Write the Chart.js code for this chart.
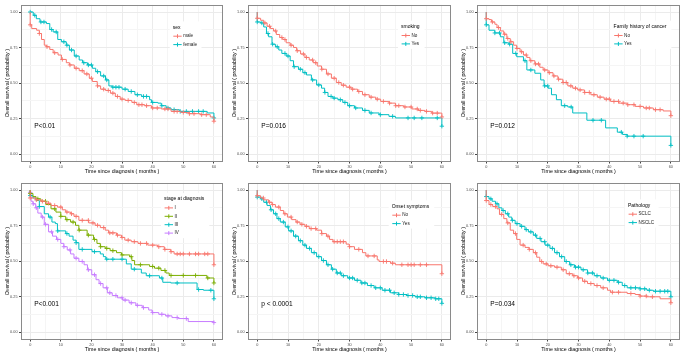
<!DOCTYPE html>
<html><head><meta charset="utf-8">
<script src="https://cdn.jsdelivr.net/npm/chart.js@4.4.1/dist/chart.umd.min.js"></script>
<style>
html,body{margin:0;padding:0;background:#fff;width:685px;height:356px;overflow:hidden;position:relative}
canvas{position:absolute}
</style></head><body>
<script>
// ---------- data ----------
const xTickLabels = [0, 10, 20, 30, 40, 50, 60];
const yTickLabels = [0, 0.25, 0.5, 0.75, 1];
const xMinorTicks = [5, 15, 25, 35, 45, 55];
const yMinorTicks = [0.125, 0.375, 0.625, 0.875];

// Panel 1: sex
const sexMaleT = [0,0,0.5,2.1,3,3.7,4.6,5.3,6.4,7.5,9.1,10.2,11.8,12.8,14.4,16,17.6,19.3,20.3,21.9,23,24.6,26.2,27.8,29.4,31,33.2,34.8,37.4,39.6,42.8,46,49.2,51.9,55.6,58.8,60];
const sexMaleS = [1,.91,.884,.872,.849,.807,.767,.756,.737,.714,.698,.667,.644,.628,.605,.588,.565,.535,.512,.481,.458,.449,.430,.407,.388,.379,.365,.349,.342,.326,.319,.302,.295,.286,.279,.263,.233];
const sexMaleCens = [0,3,5.5,8,10.5,13,15,17,18.5,20,22,24,25.5,27,28.5,30,32,34,35.5,36.5,38,40,41.5,44,45,47,48,50,52,53.5,56,57.5,60];
const sexFemaleT = [0,1,2,3.2,5.3,6.4,7.5,9,10.2,11.8,12.8,14.4,16,17.1,18.7,20.3,21.4,23,24.6,25.7,26.7,30,32,34.2,36.4,39,39.6,41.7,42.8,44.4,46,48.7,57.8,60];
const sexFemaleS = [1,.977,.953,.930,.919,.877,.860,.807,.791,.767,.733,.691,.663,.644,.628,.605,.581,.551,.523,.481,.472,.458,.442,.419,.407,.384,.365,.360,.342,.326,.314,.302,.291,.256];
const sexFemaleCens = [0,1.5,3.5,4.5,7,8.5,11,12,13.5,15,17.5,19,20,22,24,25,27,28,29,31,33,35,37,38,40,43,45,47,49,51,53,55,56.5,60];

// Panel 2: smoking
const smokeNoT = [0,0,1.1,2.1,3.2,4.3,5.3,6.2,7.3,8.3,9.4,10.7,11.8,12.8,14.1,15.5,16.9,18.2,19.5,20.9,22.5,24.1,25.7,27.3,28.9,30.5,32.6,34.2,36.4,38.5,40.1,42.8,44.9,47.6,50.3,52.4,54.5,56.7,60];
const smokeNoS = [1,.956,.942,.923,.900,.884,.867,.842,.821,.807,.784,.767,.751,.728,.705,.681,.663,.644,.621,.598,.565,.535,.505,.486,.472,.458,.442,.419,.402,.388,.372,.360,.342,.333,.319,.309,.302,.290,.263];
const smokeNoCens = [0,2.5,4,6,8,9,11,13,15,16,18,19,21,23,25,26.5,28,30,31,33,35,37,39,41,43,45,46,48,50,52,53,55,57,58.5,60];
const smokeYesT = [0,0,1.1,2.1,3,3.7,4.8,5.9,7,8,9.4,10.7,11.8,13.4,14.8,16,17.6,19.3,20.9,21.9,23,24.6,26.2,27.8,29.4,31.6,34.2,36.4,39.6,42.8,44.9,60];
const smokeYesS = [1,.93,.923,.895,.849,.826,.774,.756,.733,.709,.691,.658,.616,.598,.574,.558,.523,.488,.465,.435,.407,.395,.384,.365,.342,.326,.309,.291,.279,.267,.256,.198];
const smokeYesCens = [0,1.5,3.5,5,6.5,9,10,12,14,15.5,18,20,22,24,25,27,28.5,30,32,35,37,40,44,49,51,53.5,58.5,60];

// Panel 3: family history of cancer
const famNoT = [0,0,0.9,1.7,2.8,3.5,4.6,5.7,6.7,7.8,8.9,9.9,11,12.1,13.2,14.2,15.8,17.4,18.5,20.1,21.7,23.3,24.9,26.5,28.1,29.7,31.9,34,36.1,38.3,40.4,43.1,45.8,48.4,51.1,54.3,57.5,60];
const famNoS = [1,.953,.947,.930,.914,.891,.867,.844,.814,.791,.767,.744,.721,.698,.681,.658,.635,.612,.593,.574,.551,.528,.505,.481,.465,.453,.435,.419,.402,.388,.372,.360,.349,.337,.326,.314,.305,.272];
const famNoCens = [0,2,4,6,7,8,10,11.5,13,14.5,16,17,19,20.5,22,23.5,25,26,27.5,29,30.5,32,33.5,35,37,39,40,41.5,43,44.5,46,48,50,52,53,55,56.5,60];
const famYesT = [0,0,0.9,2.8,4.6,5.7,7.3,8.6,9.9,12.1,13.2,15.8,17.7,18.8,20.1,21.2,22.8,24.4,26.5,28.1,32.7,38.8,42.6,44.3,45.8,60];
const famYesS = [1,.91,.872,.853,.826,.784,.774,.709,.686,.658,.593,.570,.523,.481,.465,.419,.384,.342,.333,.291,.240,.186,.156,.140,.128,.063];
const famYesCens = [0,2.8,4.3,6,7.6,9.6,12.6,14.5,19,20,25.5,27.6,34.7,37.4,43.9,45.8,48,51,60];

// Panel 4: stage at diagnosis
const stage1T = [0,0,1.9,3.5,5.1,6.8,8.9,10.5,11.6,13.2,14.3,15.9,19.1,21.2,22.9,24.5,25.6,28.2,29.8,30.9,33,35.2,38.4,41.6,43.8,45.9,47,60];
const stage1S = [1,.944,.931,.921,.907,.891,.880,.861,.845,.833,.815,.787,.769,.752,.736,.718,.699,.683,.667,.648,.637,.625,.613,.602,.583,.567,.551,.475];
const stage1Cens = [0,2,4,6,8,10,12,13.5,15,17,19,20.5,22,24,26,27,28.5,30,32,34,36,38,40,42,44,46,48,49,50,52,54,55,57,58,60];
const stage2T = [0,0,0.9,1.9,3.5,5.1,6.8,8.4,10,11.6,13.2,14.8,15.9,18.6,20.7,21.8,22.9,24.5,26.1,28.2,29.8,32.5,33.2,34.1,39,40.6,42.7,44.3,45.4,57.7,60];
const stage2S = [1,.976,.954,.938,.921,.898,.868,.845,.815,.792,.775,.752,.718,.683,.653,.625,.602,.590,.574,.560,.544,.532,.505,.475,.463,.451,.435,.417,.400,.382,.347];
const stage2Cens = [0,2.5,5,8,10,12,14,16,19,21,23,25,27,30,33,36,40,42,44,46,50,54,58,60];
const stage3T = [0,0,0.9,1.9,3,4.6,6,7.1,8.2,8.9,11.6,12.7,14,15,15.9,20.2,22.9,23.9,24.7,31.4,33,36.3,37.9,42.2,43.3,45.9,54.5,56.6,60];
const stage3S = [1,.961,.944,.926,.884,.833,.810,.775,.764,.713,.694,.676,.648,.630,.583,.567,.551,.532,.514,.481,.444,.417,.398,.382,.352,.347,.301,.296,.236];
const stage3Cens = [0,3,6.5,9,12,15,17,21,25,27,30,34,39,43,48,55,59,60];
const stage4T = [0,0,0.3,0.9,1.8,2.5,3.6,4.6,6,7.3,8.6,10,11,12.1,13.2,14.3,15.9,17.6,18.7,20.1,21.5,22.5,23.8,25.2,26.8,28.5,30.2,32.3,34.5,36.6,38.7,39.8,42,44.2,46.3,48.4,51.6,60];
const stage4S = [1,.984,.921,.903,.875,.838,.810,.759,.706,.676,.653,.625,.602,.579,.551,.521,.498,.475,.440,.405,.370,.343,.313,.278,.259,.243,.227,.208,.190,.174,.157,.139,.127,.116,.104,.097,.076,.069];
const stage4Cens = [0,1,2,4,5,7,9,11,13,15,17,19,21,23,25,26,28,30,31,33,35,37,40,43,45,48,51,60];

// Panel 5: onset symptoms
const onsetNoT = [0,0,1.1,2.1,3.7,4.8,5.9,7.5,8.6,9.8,11.2,12.6,13.9,15.5,16.9,19.3,20.9,22.5,23.5,24.6,28.9,29.9,31.6,34.2,35.3,39,39.6,43.3,44.9,60];
const onsetNoS = [1,.96,.944,.931,.914,.898,.880,.856,.833,.810,.792,.775,.759,.745,.729,.718,.694,.676,.653,.637,.620,.602,.583,.560,.537,.509,.498,.486,.475,.412];
const onsetNoCens = [0,2,4,5,7,9,11,13,14.5,16,17.5,19,21,23,25,26,27,28,30,33,36,38,41,42,44,47,49,50,51,53,55,60];
const onsetYesT = [0,0,1.1,2.1,3.2,4.3,5.3,6.4,7.5,9.1,10.2,11.8,13.4,14.8,16,17.6,19.3,20.9,22.5,24.1,25.7,27.3,29.4,31.6,33.7,35.8,38,40.6,43.3,46,48.7,51.3,54.5,57.8,60];
const onsetYesS = [1,.95,.938,.914,.891,.861,.833,.799,.775,.741,.713,.676,.644,.613,.590,.560,.532,.505,.475,.444,.417,.398,.382,.366,.347,.329,.313,.296,.278,.266,.259,.250,.243,.236,.204];
const onsetYesCens = [0,1.5,3,4.5,6,7,8.5,10,11,12.5,14,15.5,17,18.5,20,21.5,23,24.5,26,27,28,30,31,32.5,34,35,37,38.5,40,41.5,43,44.5,46,47.5,49,50.5,52,53,55,56.5,58,59,60];

// Panel 6: pathology
const sclcT = [0,0,0.9,2.1,3.5,4.3,5.7,6.7,7.8,8.9,9.9,11,12.6,13.9,15.3,16.4,17.4,18.5,20.1,22.2,24.4,26,28.1,29.7,31.3,32.9,35.1,37.2,39.4,40.4,45.8,48.4,50,52.2,56.5,60];
const sclcS = [1,.926,.898,.884,.868,.829,.799,.769,.718,.694,.653,.613,.597,.583,.560,.528,.498,.481,.468,.458,.440,.412,.398,.382,.359,.343,.329,.313,.296,.282,.273,.266,.255,.250,.236,.208];
const sclcCens = [0,1.5,3,5,7,9.5,12,14,16,18,19.5,21,23,25,27,28.5,30,32,34,36,38,41,43,47,50,52,54,60];
const nsclcT = [0,0,0.9,1.9,3,4.1,5.1,6.2,7.3,8.3,9.4,11,12.6,13.7,15.3,16.4,17.8,19.1,20.7,22.2,23.8,25.5,27.1,28.7,30.8,32.9,35.1,37.2,39.4,42.6,44.2,45.8,50,52.2,54.3,60];
const nsclcS = [1,.954,.938,.921,.903,.875,.856,.833,.810,.787,.764,.745,.722,.706,.683,.660,.637,.613,.590,.560,.532,.498,.475,.458,.440,.417,.398,.382,.366,.352,.329,.313,.306,.296,.289,.250];
const nsclcCens = [0,1.5,3.5,5.5,7,8.5,10,11.5,13,14.5,16,17.5,19,20,21.5,23,24.5,26,27.5,29,30,31.5,33,34.5,36,38,40,41.5,43,45,47,48.5,50,51.5,53,55,56.5,58,59,60];

const pValues = ['P<0.01', 'P=0.016', 'P=0.012', 'P<0.001', 'p < 0.0001', 'P=0.034'];
const legendTitles = ['sex', 'smoking', 'Family history of cancer', 'stage at diagnosis', 'Onset symptoms', 'Pathology'];

// ---------- styling / layout ----------
const RED = '#F8766D', TEAL = '#00BFC4', GREEN = '#7CAE00', PURPLE = '#C77CFF';
const FONT = '"Liberation Sans", Arial, Helvetica, sans-serif';
Chart.defaults.font.family = FONT;

const panels = [
  {groups: [['male', sexMaleT, sexMaleS, sexMaleCens, RED], ['female', sexFemaleT, sexFemaleS, sexFemaleCens, TEAL]], leg: [151.7, 22.5]},
  {groups: [['No', smokeNoT, smokeNoS, smokeNoCens, RED], ['Yes', smokeYesT, smokeYesS, smokeYesCens, TEAL]], leg: [153, 21.8]},
  {groups: [['No', famNoT, famNoS, famNoCens, RED], ['Yes', famYesT, famYesS, famYesCens, TEAL]], leg: [136.6, 21.8]},
  {groups: [['I', stage1T, stage1S, stage1Cens, RED], ['II', stage2T, stage2S, stage2Cens, GREEN], ['III', stage3T, stage3S, stage3Cens, TEAL], ['IV', stage4T, stage4S, stage4Cens, PURPLE]], leg: [143, 16.2]},
  {groups: [['No', onsetNoT, onsetNoS, onsetNoCens, RED], ['Yes', onsetYesT, onsetYesS, onsetYesCens, TEAL]], leg: [143.7, 23.5]},
  {groups: [['SCLC', sclcT, sclcS, sclcCens, RED], ['NSCLC', nsclcT, nsclcS, nsclcCens, TEAL]], leg: [151, 22.5]}
];
const colLeft = [0, 227, 456], colWidth = [228, 229, 229], colPadR = [1.3, 1, 4];
const rowTop = [0, 178], H = 178;

function survAt(T, S, t) {
  let v = S[0];
  for (let i = 0; i < T.length; i++) { if (T[i] <= t + 1e-9) v = S[i]; else break; }
  return v;
}
function isMult(v, step) { return Math.abs(v / step - Math.round(v / step)) < 1e-6; }

const decoPlugin = {
  id: 'deco',
  afterDatasetsDraw(chart, args, opts) {
    const ctx = chart.ctx, a = chart.chartArea;
    const xs = chart.scales.x, ys = chart.scales.y;
    ctx.save();
    // p-value
    ctx.fillStyle = '#000';
    ctx.font = '6.6px ' + FONT;
    ctx.textAlign = 'left'; ctx.textBaseline = 'middle';
    ctx.fillText(opts.p, xs.getPixelForValue(1.3), ys.getPixelForValue(0.2));
    // legend
    const ax = a.left + opts.leg[0], ay = a.top + opts.leg[1];
    const rows = opts.groups.map((g, i) => ay + 8.8 + i * 8.4);
    ctx.font = '4.6px ' + FONT;
    let maxR = ax;
    opts.groups.forEach(g => { maxR = Math.max(maxR, ax + 10 + ctx.measureText(g[0]).width); });
    ctx.font = '5px ' + FONT;
    maxR = Math.max(maxR, ax + ctx.measureText(opts.title).width);
    ctx.fillStyle = '#fff';
    ctx.fillRect(ax - 3, ay - 6, maxR - ax + 8, rows[rows.length - 1] - ay + 11);
    ctx.fillStyle = '#000';
    ctx.fillText(opts.title, ax, ay);
    opts.groups.forEach((g, i) => {
      const y = rows[i];
      ctx.strokeStyle = g[4]; ctx.lineWidth = 1;
      ctx.beginPath(); ctx.moveTo(ax + 0.6, y); ctx.lineTo(ax + 9, y);
      ctx.moveTo(ax + 4.8, y - 2); ctx.lineTo(ax + 4.8, y + 2); ctx.stroke();
      ctx.fillStyle = '#1a1a1a'; ctx.font = '4.6px ' + FONT;
      ctx.fillText(g[0], ax + 10.5, y);
    });
    // panel border
    ctx.strokeStyle = '#8a8a8a'; ctx.lineWidth = 1;
    ctx.strokeRect(Math.round(a.left) + 0.5, Math.round(a.top) + 0.5, Math.round(a.right - a.left) - 1, Math.round(a.bottom - a.top) - 1);
    ctx.restore();
  }
};

panels.forEach((p, idx) => {
  const col = idx % 3, row = Math.floor(idx / 3);
  const cv = document.createElement('canvas');
  cv.width = colWidth[col]; cv.height = H;
  cv.style.left = colLeft[col] + 'px'; cv.style.top = rowTop[row] + 'px';
  cv.style.width = colWidth[col] + 'px'; cv.style.height = H + 'px';
  document.body.appendChild(cv);
  const datasets = [];
  p.groups.forEach(g => {
    const [name, T, S, C, color] = g;
    datasets.push({label: name, data: T.map((t, i) => ({x: t, y: S[i]})), borderColor: color, backgroundColor: color,
      borderWidth: 1, stepped: true, pointRadius: 0, fill: false});
    datasets.push({label: name + ' censor', data: C.map(t => ({x: t, y: survAt(T, S, t)})), showLine: false,
      pointStyle: 'cross', pointRadius: 2.2, pointBorderWidth: 0.9, borderColor: color, backgroundColor: color});
  });
  new Chart(cv, {
    type: 'line',
    data: {datasets},
    options: {
      responsive: false, animation: false, devicePixelRatio: 1,
      layout: {padding: {top: 3, right: colPadR[col], bottom: 0, left: 0}},
      plugins: {legend: {display: false}, tooltip: {enabled: false},
        deco: {p: pValues[idx], title: legendTitles[idx], groups: p.groups, leg: p.leg}},
      scales: {
        x: {type: 'linear', min: -3, max: 63,
          afterBuildTicks: s => { s.ticks = xTickLabels.concat(xMinorTicks).sort((a, b) => a - b).map(v => ({value: v})); },
          afterFit: s => { s.height = 16.5; },
          ticks: {autoSkip: false, maxRotation: 0, padding: 1, color: '#4d4d4d', font: {size: 3.8},
            callback: v => xTickLabels.includes(v) ? String(v) : ''},
          grid: {tickLength: 2, color: c => (c.tick && isMult(c.tick.value, 10)) ? '#ebebeb' : '#f5f5f5',
            tickColor: c => (c.tick && isMult(c.tick.value, 10)) ? '#444' : 'rgba(0,0,0,0)'},
          border: {display: false},
          title: {display: true, text: 'Time since diagnosis ( months )', color: '#000', font: {size: 5.3}, padding: {top: 0, bottom: 3}}
        },
        y: {type: 'linear', min: -0.05, max: 1.05,
          afterBuildTicks: s => { s.ticks = yTickLabels.concat(yMinorTicks).sort((a, b) => a - b).map(v => ({value: v})); },
          afterFit: s => { s.width = 21; },
          ticks: {autoSkip: false, padding: 1.5, color: '#4d4d4d', font: {size: 3.8},
            callback: v => isMult(v, 0.25) ? v.toFixed(2) : ''},
          grid: {tickLength: 2, color: c => (c.tick && isMult(c.tick.value, 0.25)) ? '#ebebeb' : '#f5f5f5',
            tickColor: c => (c.tick && isMult(c.tick.value, 0.25)) ? '#444' : 'rgba(0,0,0,0)'},
          border: {display: false},
          title: {display: true, text: 'Overall survival ( probability )', color: '#000', font: {size: 5.3}, padding: {top: 4, bottom: 0}}
        }
      }
    },
    plugins: [decoPlugin]
  });
});
</script>
</body></html>
